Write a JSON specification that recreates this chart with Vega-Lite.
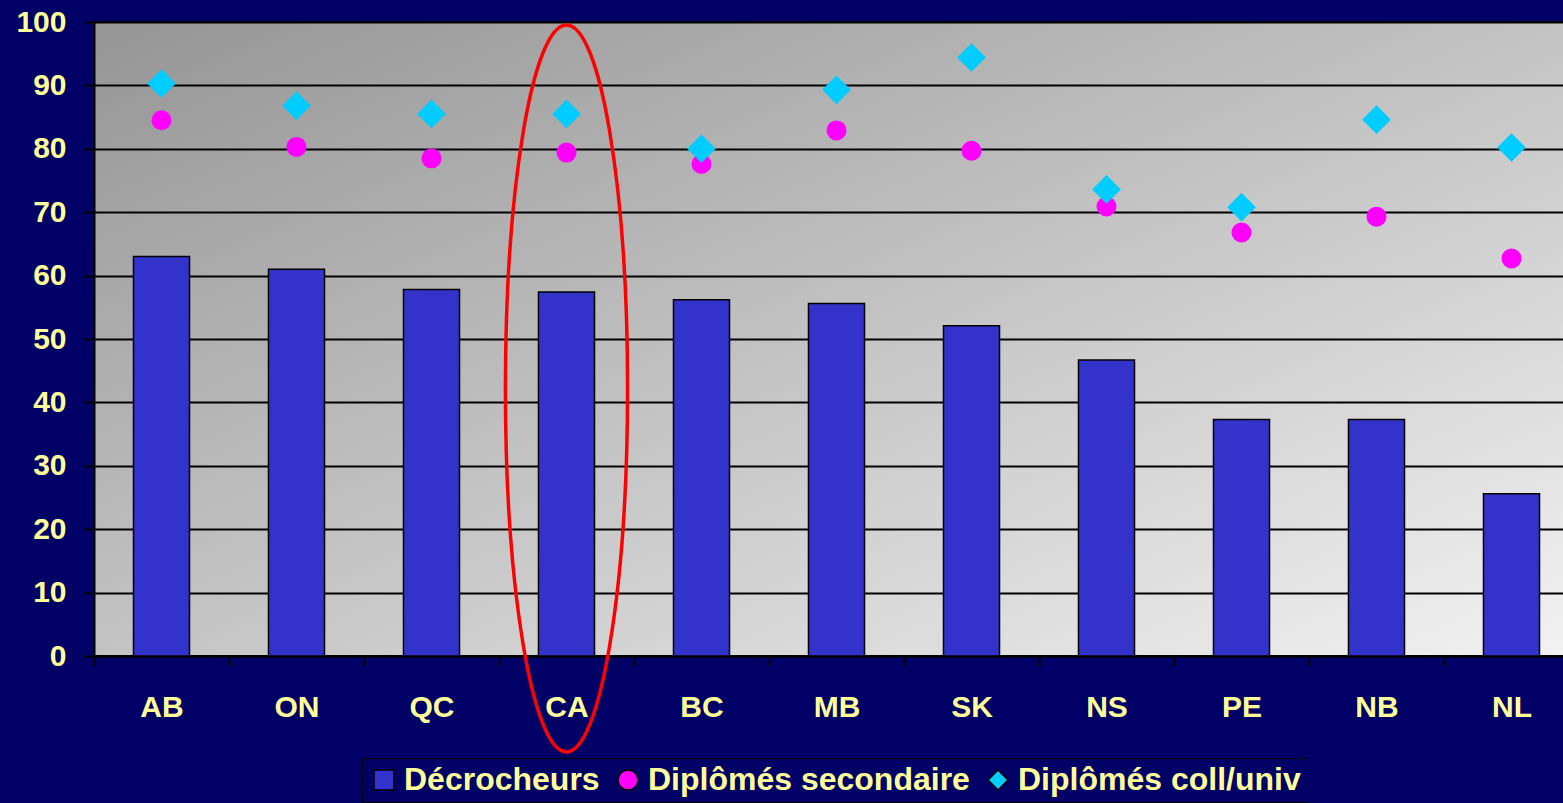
{
  "$schema": "https://vega.github.io/schema/vega-lite/v6.json",
  "autosize": "none",
  "width": 1485,
  "height": 634,
  "padding": {"left": 94, "top": 22, "right": 0, "bottom": 147},
  "background": "#000066",
  "config": {
    "view": {
      "stroke": "black",
      "strokeWidth": 2,
      "fill": {"gradient": "linear", "x1": 0, "y1": 0, "x2": 1, "y2": 1,
        "stops": [{"offset": 0, "color": "#959595"}, {"offset": 1, "color": "#f2f2f2"}]}
    },
    "font": "Liberation Sans"
  },
  "datasets": {
    "main": [
      {"prov": "AB", "serie": "Décrocheurs", "value": 63.0},
      {"prov": "ON", "serie": "Décrocheurs", "value": 61.0},
      {"prov": "QC", "serie": "Décrocheurs", "value": 57.8},
      {"prov": "CA", "serie": "Décrocheurs", "value": 57.4},
      {"prov": "BC", "serie": "Décrocheurs", "value": 56.2},
      {"prov": "MB", "serie": "Décrocheurs", "value": 55.6},
      {"prov": "SK", "serie": "Décrocheurs", "value": 52.1},
      {"prov": "NS", "serie": "Décrocheurs", "value": 46.7},
      {"prov": "PE", "serie": "Décrocheurs", "value": 37.3},
      {"prov": "NB", "serie": "Décrocheurs", "value": 37.3},
      {"prov": "NL", "serie": "Décrocheurs", "value": 25.6},
      {"prov": "AB", "serie": "Diplômés secondaire", "value": 84.5},
      {"prov": "ON", "serie": "Diplômés secondaire", "value": 80.3},
      {"prov": "QC", "serie": "Diplômés secondaire", "value": 78.5},
      {"prov": "CA", "serie": "Diplômés secondaire", "value": 79.4},
      {"prov": "BC", "serie": "Diplômés secondaire", "value": 77.6},
      {"prov": "MB", "serie": "Diplômés secondaire", "value": 82.9},
      {"prov": "SK", "serie": "Diplômés secondaire", "value": 79.7},
      {"prov": "NS", "serie": "Diplômés secondaire", "value": 70.9},
      {"prov": "PE", "serie": "Diplômés secondaire", "value": 66.8},
      {"prov": "NB", "serie": "Diplômés secondaire", "value": 69.3},
      {"prov": "NL", "serie": "Diplômés secondaire", "value": 62.7},
      {"prov": "AB", "serie": "Diplômés coll/univ", "value": 90.3},
      {"prov": "ON", "serie": "Diplômés coll/univ", "value": 86.8},
      {"prov": "QC", "serie": "Diplômés coll/univ", "value": 85.5},
      {"prov": "CA", "serie": "Diplômés coll/univ", "value": 85.5},
      {"prov": "BC", "serie": "Diplômés coll/univ", "value": 80.0},
      {"prov": "MB", "serie": "Diplômés coll/univ", "value": 89.3},
      {"prov": "SK", "serie": "Diplômés coll/univ", "value": 94.4},
      {"prov": "NS", "serie": "Diplômés coll/univ", "value": 73.6},
      {"prov": "PE", "serie": "Diplômés coll/univ", "value": 70.8},
      {"prov": "NB", "serie": "Diplômés coll/univ", "value": 84.6},
      {"prov": "NL", "serie": "Diplômés coll/univ", "value": 80.2}
    ],
    "highlight": [
      {"prov": "CA", "center": 42.2}
    ]
  },
  "encoding": {
    "x": {
      "field": "prov", "type": "nominal", "sort": null,
      "scale": {"paddingInner": 0, "paddingOuter": 0},
      "axis": {
        "title": null, "labelAngle": 0,
        "domainColor": "black", "domainWidth": 2,
        "tickColor": "black", "tickWidth": 2, "tickSize": 10, "tickBand": "extent",
        "labelColor": "#FFFF99", "labelFont": "Liberation Sans", "labelFontWeight": "bold",
        "labelFontSize": 30, "labelPadding": 26
      }
    }
  },
  "layer": [
    {
      "data": {"name": "main"},
      "transform": [{"filter": "datum.serie === 'Décrocheurs'"}],
      "mark": {"type": "bar", "width": {"band": 0.415}, "stroke": "black", "strokeWidth": 1.5},
      "encoding": {
        "y": {
          "field": "value", "type": "quantitative",
          "scale": {"domain": [0, 100], "nice": false},
          "axis": {
            "title": null, "values": [0, 10, 20, 30, 40, 50, 60, 70, 80, 90, 100],
            "grid": true, "gridColor": "black", "gridWidth": 2, "gridOpacity": 1,
            "domainColor": "black", "domainWidth": 2,
            "tickColor": "black", "tickWidth": 2, "tickSize": 10,
            "labelColor": "#FFFF99", "labelFont": "Liberation Sans", "labelFontWeight": "bold",
            "labelFontSize": 30, "labelPadding": 18
          }
        },
        "color": {
          "field": "serie", "type": "nominal",
          "scale": {"domain": ["Décrocheurs", "Diplômés secondaire", "Diplômés coll/univ"],
                    "range": ["#3333CC", "#FF00FF", "#00CCFF"]},
          "legend": {
            "title": null, "orient": "none", "legendX": 268, "legendY": 736,
            "direction": "horizontal", "fillColor": "#000066", "strokeColor": "black",
            "padding": 6, "columnPadding": 12, "labelOffset": 4, "symbolSize": 400,
            "labelColor": "#FFFF99", "labelFont": "Liberation Sans", "labelFontWeight": "bold",
            "labelFontSize": 32, "labelLimit": 600, "symbolOpacity": 1,
            "encode": {"symbols": {"update": {
              "stroke": {"signal": "datum.label === 'Décrocheurs' ? 'black' : 'transparent'"},
              "strokeWidth": {"value": 1.5}
            }}}
          }
        },
        "shape": {
          "field": "serie", "type": "nominal",
          "scale": {"domain": ["Décrocheurs", "Diplômés secondaire", "Diplômés coll/univ"],
                    "range": ["square", "circle", "diamond"]}
        }
      }
    },
    {
      "data": {"name": "main"},
      "transform": [{"filter": "datum.serie !== 'Décrocheurs'"}],
      "mark": {"type": "point", "filled": true, "opacity": 1},
      "encoding": {
        "y": {"field": "value", "type": "quantitative"},
        "color": {"field": "serie", "type": "nominal",
          "scale": {"domain": ["Décrocheurs", "Diplômés secondaire", "Diplômés coll/univ"],
                    "range": ["#3333CC", "#FF00FF", "#00CCFF"]}},
        "shape": {"field": "serie", "type": "nominal",
          "scale": {"domain": ["Décrocheurs", "Diplômés secondaire", "Diplômés coll/univ"],
                    "range": ["square", "circle", "diamond"]}},
        "size": {
          "field": "serie", "type": "nominal",
          "scale": {"domain": ["Diplômés secondaire", "Diplômés coll/univ"], "range": [400, 820]},
          "legend": null
        }
      }
    },
    {
      "data": {"name": "highlight"},
      "mark": {
        "type": "point", "filled": false, "stroke": "#FF0000", "strokeWidth": 3.5, "opacity": 1,
        "shape": "M0,-1A0.168,1,0,1,1,0,1A0.168,1,0,1,1,0,-1Z",
        "size": 528529
      },
      "encoding": {
        "y": {"field": "center", "type": "quantitative"}
      }
    }
  ]
}
